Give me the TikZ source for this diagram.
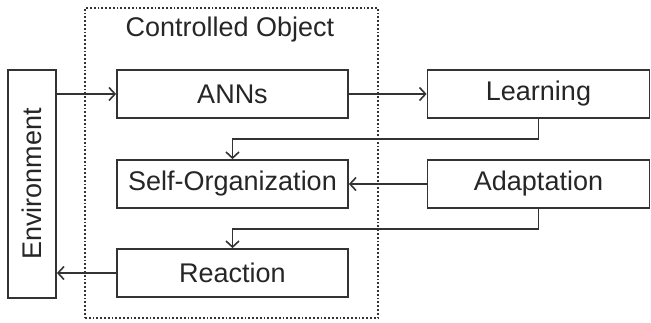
\documentclass[tikz,border=0pt]{standalone}
\usepackage{fontspec}
\setmainfont{Liberation Sans}
\usetikzlibrary{arrows.meta}
\tikzset{
	block/.style={draw=black!80, line width=1.8pt, fill=white, inner sep=0pt, minimum height=48pt, text=black!85},
	flow/.style={draw=black!80, line width=1.8pt, -{Straight Barb[length=6pt, width=13pt, line width=1.6pt]}},
}
\begin{document}
\begin{tikzpicture}[x=1pt, y=-1pt, font=\fontsize{27}{30}\selectfont]
		\useasboundingbox (0, 0) rectangle (651, 322);
		% the controlled object and its name
		\node[draw=black!80, dotted, line width=1.8pt, minimum width=293pt, minimum height=310pt, inner sep=0pt] (ctrl) at (231.5, 163) {};
		\node[text=black!85] (ctrltitle) at (230, 30) {Controlled Object};
		% blocks
		\node[block, minimum width=48pt, minimum height=228pt] (env) at (32, 184) {\rotatebox{90}{Environment}};
		\node[block, minimum width=231pt] (anns) at (232.5, 94) {ANNs};
		\node[block, minimum width=231pt] (selforg) at (232.5, 184) {Self-Organization};
		\node[block, minimum width=231pt] (reaction) at (232.5, 273) {Reaction};
		\node[block, minimum width=222pt] (learning) at (538.5, 94) {Learning};
		\node[block, minimum width=222pt] (adaptation) at (538.5, 184) {Adaptation};
		% connectors
		\draw[flow] (env.east |- anns.west) -- (anns.west);
		\draw[flow] (anns.east) -- (learning.west);
		\draw[flow] (learning.south) -- ++(0, 20) -| (selforg.north);
		\draw[flow] (adaptation.west) -- (selforg.east);
		\draw[flow] (adaptation.south) -- ++(0, 20) -| (reaction.north);
		\draw[flow] (reaction.west) -- (env.east |- reaction.west);
	\end{tikzpicture}
\end{document}
